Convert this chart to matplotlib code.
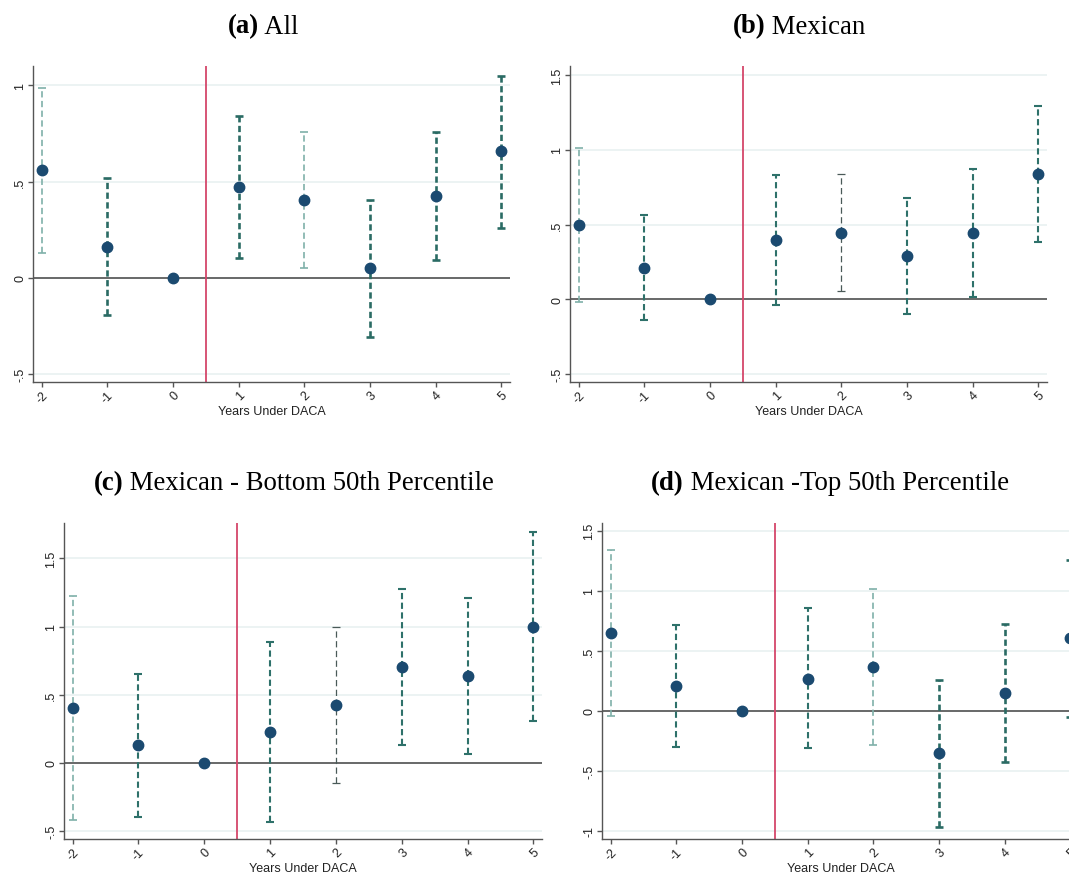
import matplotlib
matplotlib.use("Agg")
import matplotlib.pyplot as plt
import numpy as np

plt.rcParams['lines.scale_dashes'] = False

years = [-2, -1, 0, 1, 2, 3, 4, 5]
ytick_labels = {-1: "-1", -0.5: "-.5", 0: "0", 0.5: ".5", 1: "1", 1.5: "1.5"}

# (a) All
est_a = [0.558, 0.162, 0.0, 0.470, 0.404, 0.050, 0.426, 0.658]
lo_a = [0.128, -0.190, np.nan, 0.105, 0.052, -0.304, 0.095, 0.260]
hi_a = [0.988, 0.520, np.nan, 0.838, 0.758, 0.404, 0.758, 1.050]
style_a = ["light", "dark", None, "dark", "light", "dark", "dark", "dark"]

# (b) Mexican
est_b = [0.495, 0.210, 0.0, 0.397, 0.446, 0.290, 0.446, 0.838]
lo_b = [-0.020, -0.138, np.nan, -0.035, 0.056, -0.098, 0.018, 0.386]
hi_b = [1.010, 0.564, np.nan, 0.830, 0.838, 0.675, 0.874, 1.290]
style_b = ["light", "mid", None, "mid", "thin", "mid", "mid", "mid"]

# (c) Mexican - Bottom 50th Percentile
est_c = [0.400, 0.128, 0.0, 0.225, 0.424, 0.703, 0.635, 1.000]
lo_c = [-0.423, -0.396, np.nan, -0.433, -0.149, 0.132, 0.066, 0.304]
hi_c = [1.226, 0.649, np.nan, 0.888, 0.999, 1.275, 1.207, 1.696]
style_c = ["light", "mid", None, "mid", "thin", "mid", "mid", "mid"]

# (d) Mexican -Top 50th Percentile
est_d = [0.650, 0.206, 0.0, 0.264, 0.361, -0.355, 0.147, 0.606]
lo_d = [-0.040, -0.300, np.nan, -0.314, -0.286, -0.967, -0.428, -0.050]
hi_d = [1.339, 0.717, np.nan, 0.858, 1.010, 0.258, 0.725, 1.256]
style_d = ["light", "mid", None, "mid", "light", "dark", "dark", "dark"]

ci_look = {
    "dark": ("#2a6b64", 1.9),
    "mid": ("#2e716a", 1.5),
    "light": ("#7fb0a9", 1.2),
    "thin": ("#4a5a58", 0.9),
}

panels = [
    ("(a)", "All", est_a, lo_a, hi_a, style_a, (-0.54, 1.10), [-0.5, 0, 0.5, 1],
     [33, 67, 510, 383], (263, 27)),
    ("(b)", "Mexican", est_b, lo_b, hi_b, style_b, (-0.552, 1.56), [-0.5, 0, 0.5, 1, 1.5],
     [570, 67, 1047, 383], (799, 27)),
    ("(c)", "Mexican - Bottom 50th Percentile", est_c, lo_c, hi_c, style_c, (-0.56, 1.76),
     [-0.5, 0, 0.5, 1, 1.5], [64, 524, 542, 840], (294, 484)),
    ("(d)", "Mexican -Top 50th Percentile", est_d, lo_d, hi_d, style_d, (-1.069, 1.564),
     [-1, -0.5, 0, 0.5, 1, 1.5], [602, 524, 1079, 840], (830, 484)),
]

W, H = 1069, 878
fig = plt.figure(figsize=(W / 100, H / 100), dpi=100)
renderer = fig.canvas.get_renderer()


def add_title(cx, cy, tag, rest):
    t1 = fig.text(0, 1 - cy / H, tag, fontweight="bold", family="Liberation Serif",
                  fontsize=19.3, va="center", ha="left")
    t2 = fig.text(0, 1 - cy / H, " " + rest, family="Liberation Serif",
                  fontsize=19.3, va="center", ha="left")
    w1 = t1.get_window_extent(renderer).width / W
    w2 = t2.get_window_extent(renderer).width / W
    x0 = cx / W - (w1 + w2) / 2
    t1.set_x(x0)
    t2.set_x(x0 + w1)


for tag, rest, est, lo, hi, style, ylim, yticks, box, tpos in panels:
    l, t, r, b = box
    ax = fig.add_axes([l / W, 1 - b / H, (r - l) / W, (b - t) / H])
    ax.set_xlim(-2.13, 5.13)
    ax.set_ylim(*ylim)

    for yv in yticks:
        ax.axhline(yv, color="#e9f1f1", lw=1.2, zorder=0)
    ax.axhline(0, color="#444444", lw=1.1, zorder=1)
    ax.axvline(0.5, color="#d4466a", lw=1.3, zorder=1)

    for x, e, lw_, hw, s in zip(years, est, lo, hi, style):
        if s is None:
            continue
        c, w = ci_look[s]
        ax.plot([x, x], [lw_, hw], color=c, lw=w, dashes=(4.5, 2.5), zorder=2)
        ax.plot([x, x], [lw_, hw], ls="none", marker="_", ms=6, mew=w, color=c, zorder=2)

    ax.plot(years, est, ls="none", marker="o", ms=7.5, color="#1b4a70", zorder=3)

    for side in ["top", "right"]:
        ax.spines[side].set_visible(False)
    for side in ["left", "bottom"]:
        ax.spines[side].set_color("#555555")
        ax.spines[side].set_linewidth(1.0)

    ax.set_yticks(yticks)
    ax.set_yticklabels([ytick_labels[v] for v in yticks], rotation=90, va="center",
                       family="Liberation Sans", fontsize=9)
    ax.set_xticks(years)
    ax.set_xticklabels([str(v) for v in years], rotation=45, ha="right", va="top",
                       rotation_mode="anchor", family="Liberation Sans", fontsize=9)
    ax.tick_params(axis="both", colors="#555555", labelcolor="#222222", length=3.5,
                   width=1, pad=1.5)
    ax.set_xlabel("Years Under DACA", family="Liberation Sans", fontsize=9,
                  color="#222222", labelpad=0)

    add_title(tpos[0], tpos[1], tag, rest)

fig.savefig("out.png", dpi=100)
